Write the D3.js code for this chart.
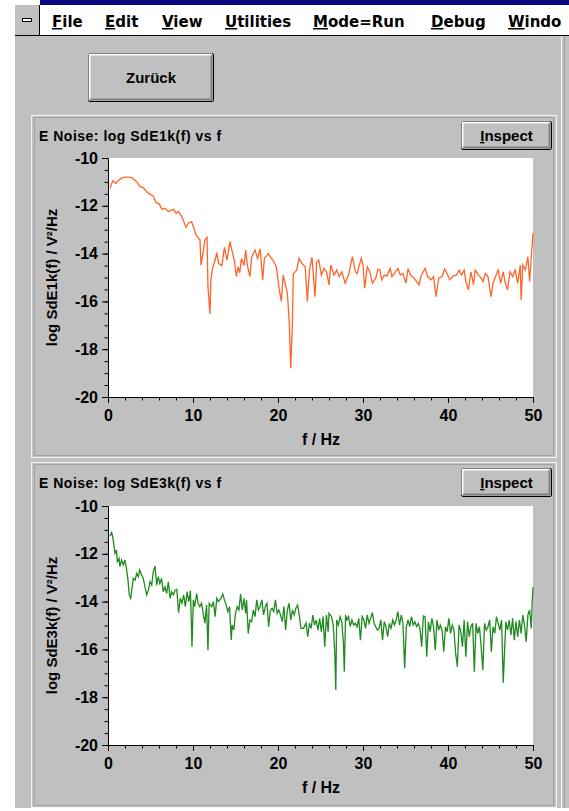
<!DOCTYPE html>
<meta charset="utf-8">
<body style="margin:0;background:#fff">
<script src="https://d3js.org/d3.v7.min.js"></script>
<script>

var W = 569, H = 811;
var FONT = '"Liberation Sans", Arial, sans-serif';
var SYS = '"DejaVu Sans", sans-serif';

// [f / Hz, log Sd]
var spec1k = [
  [0.24,-11.27],[0.55,-10.95],[0.94,-11.06],[1.2,-10.95],[1.6,-10.84],[2.0,-10.8],[2.4,-10.8],[2.8,-10.82],
  [3.37,-10.99],[3.76,-11.2],[4.15,-11.24],[4.55,-11.41],[4.94,-11.52],[5.33,-11.59],[5.65,-11.87],[6.04,-11.93],
  [6.35,-12.15],[6.7,-12.1],[7.1,-12.24],[7.37,-12.2],[7.76,-12.15],[8.0,-12.31],[8.27,-12.24],[8.67,-12.45],
  [9.18,-12.9],[9.45,-12.73],[9.84,-12.66],[10.1,-12.94],[10.35,-13.22],[10.67,-13.36],[10.82,-13.43],[10.94,-14.48],
  [11.18,-13.96],[11.4,-13.43],[11.65,-13.32],[11.76,-15.38],[12.0,-16.53],[12.1,-15.1],[12.3,-14.62],[12.6,-14.27],
  [12.8,-13.96],[13.0,-14.41],[13.4,-14.5],[13.7,-13.74],[14.0,-14.27],[14.35,-13.5],[14.6,-13.9],[14.86,-14.27],
  [15.1,-14.96],[15.3,-14.55],[15.5,-14.8],[15.7,-14.2],[16.0,-14.5],[16.2,-13.85],[16.4,-14.5],[16.7,-14.96],
  [16.9,-14.15],[17.3,-13.85],[17.6,-14.2],[17.9,-13.8],[18.2,-15.1],[18.4,-14.2],[18.86,-14.0],[19.1,-14.15],
  [19.4,-14.27],[19.8,-14.55],[20.15,-15.52],[20.4,-16.0],[20.6,-14.9],[20.8,-15.17],[21.1,-15.66],[21.33,-16.92],
  [21.5,-18.8],[21.7,-16.86],[21.8,-14.85],[22.2,-14.69],[22.47,-14.2],[22.8,-14.4],[23.2,-14.55],[23.45,-16.0],
  [23.7,-14.69],[24.0,-14.15],[24.35,-15.8],[24.55,-14.35],[24.8,-14.27],[25.1,-14.9],[25.4,-14.62],[25.7,-14.76],
  [26.0,-15.31],[26.2,-14.48],[26.6,-14.9],[26.9,-14.69],[27.2,-14.96],[27.5,-14.76],[27.9,-15.24],[28.3,-14.9],
  [28.75,-14.13],[29.1,-14.76],[29.3,-14.83],[29.8,-14.2],[30.0,-14.48],[30.2,-15.45],[30.5,-14.55],[30.8,-14.76],
  [31.1,-15.24],[31.5,-15.03],[31.76,-14.65],[32.0,-14.69],[32.2,-15.1],[32.5,-14.9],[32.8,-14.94],[33.2,-14.62],
  [33.4,-14.96],[33.8,-14.76],[34.1,-14.62],[34.4,-14.9],[34.7,-14.83],[35.06,-15.24],[35.3,-14.62],[35.6,-14.9],
  [36.0,-15.03],[36.6,-15.3],[36.8,-14.96],[37.3,-14.62],[37.6,-14.96],[38.0,-15.1],[38.3,-14.96],[38.6,-15.8],
  [38.9,-15.03],[39.3,-14.96],[39.6,-14.65],[39.9,-14.83],[40.2,-15.1],[40.6,-14.94],[41.0,-14.9],[41.3,-14.69],
  [41.6,-14.9],[41.9,-14.69],[42.1,-15.17],[42.4,-15.52],[42.7,-14.76],[43.0,-15.3],[43.2,-14.69],[43.6,-14.9],
  [43.9,-15.03],[44.1,-15.17],[44.4,-14.83],[44.7,-14.96],[45.06,-15.8],[45.3,-15.24],[45.6,-14.96],[45.9,-14.69],
  [46.2,-15.24],[46.5,-14.76],[46.7,-15.17],[47.0,-15.52],[47.3,-14.76],[47.6,-14.96],[47.9,-14.69],[48.2,-15.24],
  [48.5,-14.48],[48.6,-15.94],[48.8,-14.48],[49.1,-14.69],[49.4,-14.13],[49.6,-15.17],[49.8,-14.13],[50.0,-13.15]
];

var spec3k = [
  [0.24,-11.26],[0.43,-11.11],[0.55,-11.28],[0.7,-11.63],[0.82,-11.98],[1.0,-11.84],[1.1,-12.33],[1.3,-12.19],
  [1.4,-12.54],[1.6,-12.26],[1.8,-12.47],[2.0,-12.26],[2.2,-12.68],[2.35,-13.1],[2.5,-13.72],[2.67,-13.86],
  [2.82,-13.45],[2.98,-13.03],[3.2,-13.1],[3.37,-12.82],[3.57,-12.96],[3.73,-12.68],[3.96,-12.89],[4.15,-13.03],
  [4.35,-13.38],[4.55,-13.72],[4.75,-13.52],[4.94,-13.17],[5.14,-13.31],[5.33,-12.75],[5.53,-12.51],[5.73,-13.31],
  [5.92,-12.96],[6.1,-13.24],[6.3,-13.03],[6.5,-13.59],[6.7,-13.38],[6.9,-13.66],[7.1,-13.17],[7.3,-13.86],
  [7.5,-13.59],[7.7,-13.72],[7.9,-13.52],[8.1,-13.49],[8.3,-14.46],[8.5,-13.86],[8.7,-14.07],[8.9,-13.72],
  [9.1,-14.21],[9.3,-13.59],[9.5,-14.0],[9.7,-13.55],[9.88,-15.89],[10.04,-13.93],[10.2,-14.21],[10.43,-13.66],
  [10.6,-14.07],[10.8,-14.21],[11.0,-14.07],[11.2,-14.49],[11.4,-14.9],[11.6,-14.14],[11.76,-16.03],[11.9,-14.07],
  [12.2,-14.21],[12.4,-14.0],[12.6,-14.63],[12.8,-13.86],[13.0,-14.0],[13.3,-13.86],[13.5,-13.68],[13.7,-13.93],
  [13.9,-14.14],[14.1,-14.42],[14.3,-14.21],[14.5,-15.61],[14.6,-14.98],[14.8,-15.19],[15.0,-14.49],[15.2,-14.21],
  [15.4,-14.35],[15.6,-13.68],[15.8,-14.35],[16.0,-13.86],[16.2,-14.49],[16.3,-13.93],[16.5,-15.33],[16.7,-14.77],
  [16.9,-14.84],[17.1,-14.35],[17.3,-14.63],[17.5,-13.93],[17.7,-14.35],[17.9,-14.21],[18.1,-13.93],[18.3,-14.56],
  [18.5,-14.21],[18.7,-14.07],[18.9,-15.05],[19.1,-14.35],[19.3,-14.28],[19.5,-14.42],[19.7,-13.93],[19.9,-14.49],
  [20.1,-14.35],[20.3,-14.56],[20.5,-14.84],[20.7,-14.21],[20.9,-15.19],[21.1,-14.35],[21.3,-14.07],[21.5,-14.77],
  [21.7,-14.35],[21.9,-14.56],[22.1,-14.28],[22.3,-14.14],[22.5,-14.56],[22.7,-15.12],[23.0,-15.12],[23.3,-14.9],
  [23.5,-15.47],[23.7,-14.9],[23.9,-15.12],[24.1,-14.56],[24.3,-14.98],[24.5,-14.77],[24.7,-15.19],[24.9,-14.7],
  [25.1,-15.26],[25.3,-14.63],[25.5,-15.89],[25.7,-14.56],[25.9,-15.26],[26.0,-14.49],[26.3,-14.63],[26.5,-14.98],
  [26.68,-16.17],[26.8,-17.7],[26.9,-14.77],[27.1,-14.98],[27.3,-14.63],[27.5,-14.84],[27.7,-15.75],[27.8,-16.93],
  [27.95,-14.56],[28.1,-14.77],[28.3,-14.63],[28.5,-15.05],[28.7,-14.77],[28.9,-14.98],[29.1,-14.91],[29.3,-15.05],
  [29.5,-14.7],[29.7,-15.61],[29.9,-14.63],[30.1,-14.77],[30.3,-15.12],[30.5,-14.56],[30.7,-14.91],[30.9,-14.7],
  [31.1,-14.46],[31.3,-14.91],[31.5,-15.05],[31.7,-15.19],[31.9,-15.12],[32.1,-14.77],[32.3,-15.61],[32.5,-14.84],
  [32.7,-15.05],[32.9,-15.47],[33.1,-14.91],[33.3,-15.12],[33.5,-14.77],[33.7,-14.98],[33.9,-14.77],[34.1,-14.42],
  [34.3,-14.98],[34.5,-14.56],[34.7,-14.91],[34.9,-16.79],[35.1,-15.05],[35.3,-14.77],[35.5,-15.05],[35.7,-14.63],
  [35.9,-14.98],[36.1,-14.84],[36.3,-15.05],[36.5,-14.91],[36.7,-15.12],[36.9,-15.89],[37.1,-14.6],[37.3,-14.63],
  [37.5,-16.31],[37.7,-14.84],[37.9,-15.26],[38.1,-14.7],[38.3,-15.05],[38.5,-16.03],[38.7,-14.77],[38.9,-15.19],
  [39.1,-14.98],[39.3,-15.19],[39.5,-16.1],[39.7,-15.05],[39.9,-15.26],[40.1,-14.7],[40.3,-15.33],[40.5,-14.98],
  [40.7,-15.19],[40.9,-16.17],[41.1,-16.72],[41.3,-14.98],[41.5,-15.26],[41.7,-15.89],[41.9,-14.77],[42.1,-16.31],
  [42.3,-14.84],[42.5,-15.47],[42.7,-15.05],[42.9,-14.91],[43.1,-16.93],[43.3,-14.91],[43.5,-15.33],[43.7,-15.05],
  [43.9,-15.89],[44.1,-16.86],[44.3,-14.91],[44.5,-15.19],[44.7,-15.05],[44.9,-14.77],[45.1,-16.1],[45.3,-15.05],
  [45.5,-15.33],[45.7,-14.63],[45.9,-14.91],[46.1,-15.19],[46.3,-14.77],[46.5,-17.39],[46.8,-14.84],[47.0,-15.19],
  [47.2,-14.77],[47.4,-15.4],[47.6,-14.7],[47.8,-15.61],[48.0,-14.84],[48.2,-15.47],[48.4,-14.77],[48.6,-15.33],
  [48.8,-14.56],[49.0,-14.98],[49.2,-15.68],[49.4,-14.56],[49.6,-14.35],[49.8,-15.12],[49.9,-14.07],[50.0,-13.4]
];

var xTicks = [0, 10, 20, 30, 40, 50];
var yTicks = [-10, -12, -14, -16, -18, -20];
var menuItems = ['File', 'Edit', 'View', 'Utilities', 'Mode=Run', 'Debug', 'Windo'];
var menuX = [52, 105, 162, 225, 313, 431, 508];

var panels = [
  {top: 115, bottom: 457, plotTop: 158, data: spec1k, color: '#ff6428',
   title: 'E Noise: log SdE1k(f) vs f', ylab: 'log SdE1k(f) / V²/Hz'},
  {top: 462, bottom: 807, plotTop: 506, data: spec3k, color: '#1f8a1f',
   title: 'E Noise: log SdE3k(f) vs f', ylab: 'log SdE3k(f) / V²/Hz'}
];

var svg = d3.select('body').append('svg')
  .attr('width', W).attr('height', H)
  .style('display', 'block');

// window background
svg.append('rect').attr('width', W).attr('height', H).attr('fill', '#fff');
svg.append('rect').attr('x', 15).attr('y', 36).attr('width', W - 15).attr('height', 772).attr('fill', '#c0c0c0');

// title bar remnant + menu bar
svg.append('rect').attr('x', 40).attr('y', 0).attr('width', W - 40).attr('height', 5).attr('fill', '#0a0a80');
svg.append('rect').attr('x', 15).attr('y', 5).attr('width', 25).attr('height', 30).attr('fill', '#c0c0c0');
svg.append('line').attr('x1', 39.5).attr('x2', 39.5).attr('y1', 5).attr('y2', 35).attr('stroke', '#000');
svg.append('rect').attr('x', 22.5).attr('y', 18.5).attr('width', 9).attr('height', 3)
  .attr('fill', '#fff').attr('stroke', '#000');
svg.append('line').attr('x1', 15).attr('x2', W).attr('y1', 35.5).attr('y2', 35.5).attr('stroke', '#000');

var menu = svg.append('g').attr('font-family', SYS).attr('font-weight', 'bold').attr('font-size', 15);
menuItems.forEach(function(m, i) {
  var t = menu.append('text').attr('x', menuX[i]).attr('y', 27);
  t.append('tspan').style('text-decoration', 'underline').text(m[0]);
  t.append('tspan').text(m.slice(1));
});

// win3.1 style push button
function button(x, y, w, h, label, fs, underlineFirst) {
  var g = svg.append('g');
  g.append('rect').attr('x', x + 0.5).attr('y', y + 0.5).attr('width', w - 1).attr('height', h - 1)
    .attr('rx', 1.5).attr('fill', '#c0c0c0').attr('stroke', '#000');
  g.append('path').attr('d', 'M' + (x + 1.5) + ',' + (y + h - 2) + 'V' + (y + 1.5) + 'H' + (x + w - 2))
    .attr('fill', 'none').attr('stroke', '#fff').attr('stroke-width', 2);
  g.append('path').attr('d', 'M' + (x + 2) + ',' + (y + h - 2.5) + 'H' + (x + w - 2.5) + 'V' + (y + 2))
    .attr('fill', 'none').attr('stroke', '#808080').attr('stroke-width', 2);
  var t = g.append('text').attr('x', x + w / 2).attr('y', y + h / 2 + fs * 0.36)
    .attr('text-anchor', 'middle').attr('font-family', FONT).attr('font-weight', 'bold').attr('font-size', fs);
  if (underlineFirst) {
    t.append('tspan').style('text-decoration', 'underline').text(label[0]);
    t.append('tspan').text(label.slice(1));
  } else t.text(label);
}

button(88, 53, 126, 49, 'Zurück', 15, false);

// extra frame edge at right (neighbouring window)
svg.append('line').attr('x1', 561.5).attr('x2', 561.5).attr('y1', 36).attr('y2', 808).attr('stroke', '#f4f4f4');
svg.append('line').attr('x1', 564.5).attr('x2', 564.5).attr('y1', 36).attr('y2', 808).attr('stroke', '#a0a0a0');

var x = d3.scaleLinear().domain([0, 50]).range([108, 533]);

panels.forEach(function(p) {
  var g = svg.append('g');
  var h = p.bottom - p.top;
  g.append('rect').attr('x', 31.5).attr('y', p.top + 0.5).attr('width', 525).attr('height', h)
    .attr('fill', 'none').attr('stroke', '#f4f4f4');
  g.append('rect').attr('x', 34.5).attr('y', p.top + 2.5).attr('width', 519).attr('height', h - 4)
    .attr('fill', 'none').attr('stroke', '#a0a0a0');

  g.append('text').attr('x', 39).attr('y', p.top + 26)
    .attr('font-family', FONT).attr('font-weight', 'bold').attr('font-size', 14)
    .attr('letter-spacing', 0.5).text(p.title);

  button(461, p.top + 6, 91, 29, 'Inspect', 15, true);

  var y = d3.scaleLinear().domain([-20, -10]).range([p.plotTop + 239, p.plotTop]);

  g.append('rect').attr('x', x(0)).attr('y', y(-10)).attr('width', x(50) - x(0)).attr('height', y(-20) - y(-10))
    .attr('fill', '#fff');

  var line = d3.line().x(function(d) { return x(d[0]); }).y(function(d) { return y(d[1]); });
  g.append('path').datum(p.data).attr('d', line)
    .attr('fill', 'none').attr('stroke', p.color).attr('stroke-width', 1.3);

  // minor ticks
  g.append('g').attr('transform', 'translate(108,0)')
    .call(d3.axisLeft(y).tickValues(d3.range(-20, -9.9, 0.5)).tickSize(3.5).tickSizeOuter(0).tickFormat(''));
  g.append('g').attr('transform', 'translate(0,' + y(-20) + ')')
    .call(d3.axisBottom(x).tickValues(d3.range(0, 50.1, 2)).tickSize(3.5).tickSizeOuter(0).tickFormat(''));

  var ya = g.append('g').attr('transform', 'translate(108,0)')
    .call(d3.axisLeft(y).tickValues(yTicks).tickSize(6).tickSizeOuter(0).tickPadding(4)
      .tickFormat(function(d) { return String(d); }));
  var xa = g.append('g').attr('transform', 'translate(0,' + y(-20) + ')')
    .call(d3.axisBottom(x).tickValues(xTicks).tickSize(6).tickSizeOuter(0)
      .tickFormat(function(d) { return String(d); }));
  xa.selectAll('text').attr('y', 24).attr('dy', null);

  g.selectAll('.domain, .tick line').attr('stroke', '#000');
  [ya, xa].forEach(function(a) {
    a.attr('font-family', FONT).attr('font-weight', 'bold').attr('font-size', 16);
    a.selectAll('text').attr('fill', '#000');
  });

  g.append('text').attr('x', 321).attr('y', y(-20) + 48).attr('text-anchor', 'middle')
    .attr('font-family', FONT).attr('font-weight', 'bold').attr('font-size', 16).text('f / Hz');

  g.append('text').attr('transform', 'translate(57,' + (y(-15)) + ') rotate(-90)')
    .attr('text-anchor', 'middle').attr('font-family', FONT).attr('font-weight', 'bold').attr('font-size', 15)
    .text(p.ylab);
});

</script>
</body>
</html>
